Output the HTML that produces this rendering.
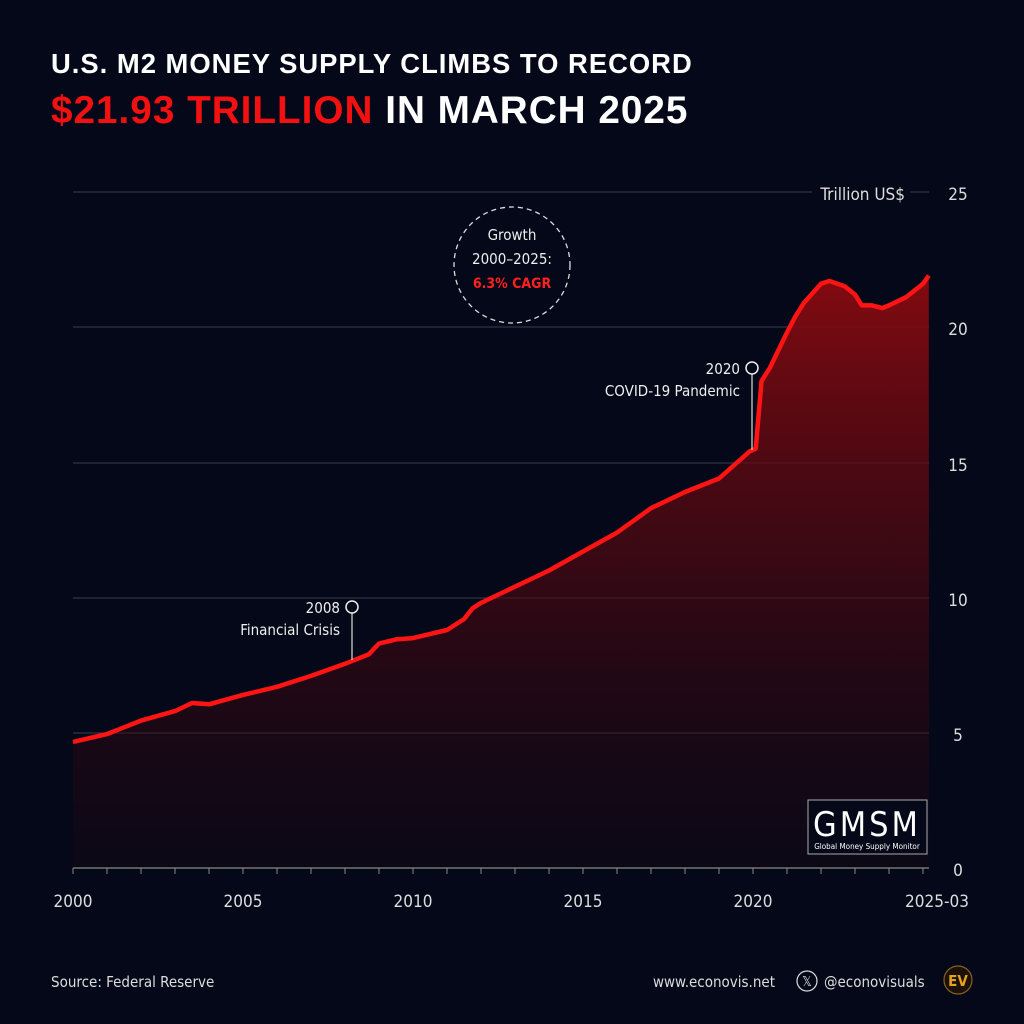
<!DOCTYPE html><html><head><meta charset="utf-8"><style>
body{margin:0;width:1024px;height:1024px;background:#050818;overflow:hidden;font-family:"DejaVu Sans Condensed","Liberation Sans",sans-serif}
.t{position:absolute;left:51px;color:#fff;font-family:"Liberation Sans",sans-serif;font-weight:bold;letter-spacing:1px;white-space:nowrap}
</style></head><body>
<div class="t" style="top:48px;font-size:27.4px">U.S. M2 MONEY SUPPLY CLIMBS TO RECORD</div>
<div class="t" style="top:89px;font-size:38.7px"><span style="color:#f21010">$21.93 TRILLION</span> IN MARCH 2025</div>
<svg id="s" width="1024" height="1024" style="position:absolute;left:0;top:0" font-family="DejaVu Sans Condensed, Liberation Sans, sans-serif">
<defs><linearGradient id="g" x1="0" y1="0" x2="0" y2="1"><stop offset="0" stop-color="#8a0a10" stop-opacity="0.95"/><stop offset="1" stop-color="#1a0812" stop-opacity="0.3"/></linearGradient></defs>
<g stroke="#3b3e50" stroke-width="1">
<line x1="73" x2="929" y1="192" y2="192"/><line x1="73" x2="929" y1="327" y2="327"/><line x1="73" x2="929" y1="463" y2="463"/><line x1="73" x2="929" y1="598" y2="598"/><line x1="73" x2="929" y1="733" y2="733"/></g>
<path id="area" fill="url(#g)"/>
<path id="ln" fill="none" stroke="#ff1414" stroke-width="4.5" stroke-linejoin="round"/>
<line x1="73" x2="929" y1="868" y2="868" stroke="#888" stroke-width="1.2"/>
<g id="ticks" stroke="#888"></g>
<g fill="#ddd" font-size="17" text-anchor="middle">
<text x="73" y="907">2000</text><text x="243" y="907">2005</text><text x="413" y="907">2010</text><text x="583" y="907">2015</text><text x="753" y="907">2020</text><text x="937" y="907">2025-03</text></g>
<g fill="#ddd" font-size="17" text-anchor="middle">
<text x="958" y="200">25</text><text x="958" y="335">20</text><text x="958" y="471">15</text><text x="958" y="606">10</text><text x="958" y="741">5</text><text x="958" y="876">0</text></g>
<rect x="812" y="180" width="98" height="24" fill="#050818"/>
<text x="905" y="200" fill="#ddd" font-size="17" text-anchor="end">Trillion US$</text>
<circle cx="512" cy="265" r="58" fill="none" stroke="#ddd" stroke-width="1.3" stroke-dasharray="5,4"/>
<g text-anchor="middle" font-size="15"><text x="512" y="240" fill="#eee">Growth</text><text x="512" y="264" fill="#eee">2000–2025:</text><text x="512" y="288" fill="#ff2020" font-weight="bold" font-size="14">6.3% CAGR</text></g>
<line x1="352" y1="613" x2="352" y2="660" stroke="#ddd" stroke-width="1.2"/><circle cx="352" cy="607" r="6" fill="#050818" stroke="#eee" stroke-width="1.5"/>
<g fill="#eee" font-size="15" text-anchor="end"><text x="340" y="613">2008</text><text x="340" y="635">Financial Crisis</text>
<text x="740" y="374">2020</text><text x="740" y="396">COVID-19 Pandemic</text></g>
<line x1="752" y1="374" x2="752" y2="450" stroke="#ddd" stroke-width="1.2"/><circle cx="752" cy="368" r="6" fill="#050818" stroke="#eee" stroke-width="1.5"/>
<rect x="808" y="800" width="119" height="54" fill="#050818" stroke="#aaa" stroke-width="1"/>
<text x="867" y="836" fill="#fff" font-size="34" text-anchor="middle" letter-spacing="3">GMSM</text>
<text x="867" y="849" fill="#fff" font-size="8" text-anchor="middle">Global Money Supply Monitor</text>
<text x="51" y="987" fill="#ddd" font-size="15">Source: Federal Reserve</text>
<text x="775" y="987" fill="#ddd" font-size="15" text-anchor="end">www.econovis.net</text>
<circle cx="807" cy="981" r="10" fill="none" stroke="#ddd" stroke-width="1.2"/><text x="807" y="986" fill="#ddd" font-size="13" text-anchor="middle">𝕏</text>
<text x="824" y="987" fill="#ddd" font-size="15">@econovisuals</text>
<circle cx="958" cy="980" r="14" fill="#1a1208" stroke="#8a6020" stroke-width="1.2"/><text x="958" y="986" fill="#e8a020" font-size="15" font-weight="bold" text-anchor="middle">EV</text>
</svg>
<script>
var d=[[2000,4.66],[2001,4.95],[2002,5.45],[2003,5.8],[2003.5,6.1],[2004,6.05],[2005,6.4],[2006,6.7],[2007,7.1],[2008,7.55],[2008.7,7.9],[2009,8.3],[2009.5,8.45],[2010,8.5],[2011,8.8],[2011.5,9.2],[2011.75,9.6],[2012,9.8],[2013,10.4],[2014,11.0],[2015,11.7],[2016,12.4],[2017,13.3],[2018,13.9],[2019,14.4],[2019.9,15.4],[2020.08,15.5],[2020.25,18.0],[2020.5,18.5],[2021,19.8],[2021.25,20.4],[2021.5,20.9],[2022,21.6],[2022.25,21.7],[2022.7,21.5],[2023,21.2],[2023.2,20.8],[2023.5,20.8],[2023.8,20.7],[2024,20.8],[2024.5,21.1],[2025,21.6],[2025.17,21.9]];
var p=d.map(function(a,i){return (i?'L':'M')+(73+34*(a[0]-2000)).toFixed(1)+','+(868-27.05*a[1]).toFixed(1)}).join('');
document.getElementById('ln').setAttribute('d',p);
document.getElementById('area').setAttribute('d',p+'L929,868L73,868Z');
var t='';for(var y=2000;y<=2025;y++){var x=73+34*(y-2000);t+='<line x1="'+x+'" x2="'+x+'" y1="868" y2="874"/>';}
document.getElementById('ticks').innerHTML=t;
</script>
</body></html>
